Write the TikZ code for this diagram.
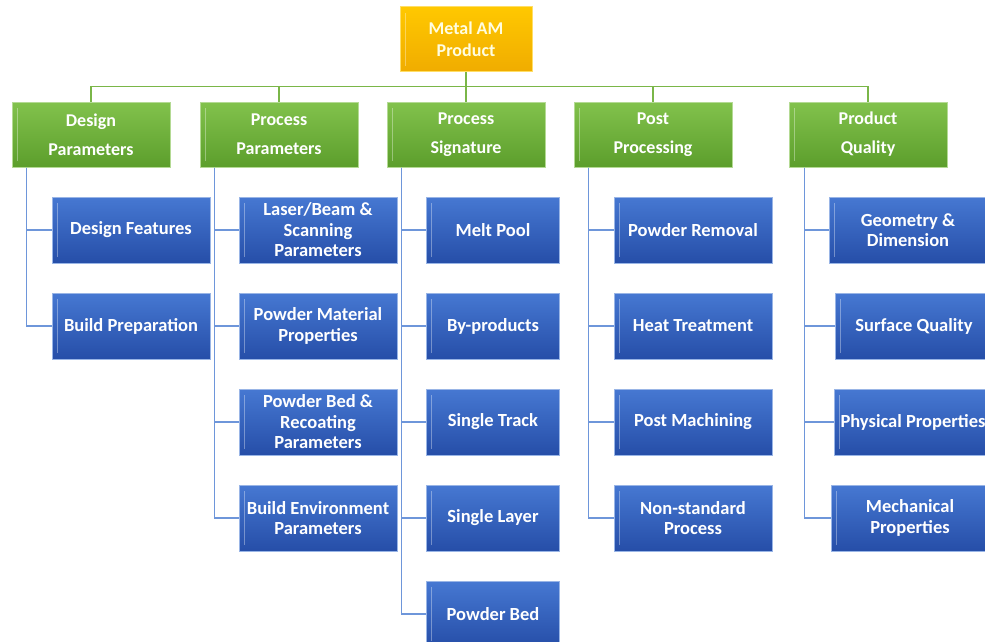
\documentclass[tikz,border=0pt]{standalone}
\usepackage{fontspec}
\setmainfont{Carlito}
\usetikzlibrary{positioning}
\definecolor{mgold}{RGB}{255,200,0}
\definecolor{mgoldd}{RGB}{240,172,0}
\definecolor{mgreen}{RGB}{130,194,76}
\definecolor{mgreend}{RGB}{92,158,44}
\definecolor{mblue}{RGB}{70,120,210}
\definecolor{mblued}{RGB}{38,78,168}
\definecolor{glink}{RGB}{122,182,72}
\definecolor{blink}{RGB}{110,150,218}

\begin{document}
\begin{tikzpicture}[x=1pt, y=1pt, node distance=29pt,
    box/.style={draw, line width=1pt, inner sep=0pt, align=center, text=white,
        path picture={\draw[white, opacity=.35, line width=1pt]
            ([xshift=5pt, yshift=-6pt]path picture bounding box.north west) --
            ([xshift=5pt, yshift=6pt]path picture bounding box.south west);}},
    root/.style={box, draw=mgold!60, top color=mgold, bottom color=mgoldd,
        minimum width=132pt, minimum height=65pt, text=yellow!12,
        font=\fontsize{18}{22}\selectfont\bfseries},
    group/.style={box, draw=mgreen!60, top color=mgreen, bottom color=mgreend,
        minimum width=158pt, minimum height=65pt,
        font=\fontsize{18}{29}\selectfont\bfseries},
    leaf/.style={box, draw=mblue!55, top color=mblue, bottom color=mblued,
        minimum width=158pt, minimum height=66pt,
        font=\fontsize{18.5}{20.5}\selectfont\bfseries},
    short_leaf/.style={leaf, minimum width=133pt},
    green_line/.style={glink, line width=1.2pt},
    blue_line/.style={blink, line width=1.4pt},
]
\clip (0,0) rectangle (985,-642);

\node[root] (metal) at (466,-39.5) {Metal AM\\Product};

% second level
\node[group] (design) at (91,-134.5) {Design\\Parameters};
\node[group] (process) at (279,-134.5) {Process\\Parameters};
\node[group] (signature) at (466,-134.5) {Process\\Signature};
\node[group] (post) at (653,-134.5) {Post\\Processing};
\node[group] (quality) at (868,-134.5) {Product\\Quality};

% design parameters
\node[leaf, below=29pt of design, xshift=40pt] (features) {Design Features};
\node[leaf, below=of features] (preparation) {Build Preparation};

% process parameters
\node[leaf, below=29pt of process, xshift=39pt] (laser) {Laser/Beam \&\\Scanning\\Parameters};
\node[leaf, below=of laser] (material) {Powder Material\\Properties};
\node[leaf, below=of material] (recoating) {Powder Bed \&\\Recoating\\Parameters};
\node[leaf, below=of recoating] (environment) {Build Environment\\Parameters};

% process signature
\node[short_leaf, below=29pt of signature, xshift=27pt] (meltpool) {Melt Pool};
\node[short_leaf, below=of meltpool] (byproducts) {By-products};
\node[short_leaf, below=of byproducts] (track) {Single Track};
\node[short_leaf, below=of track] (layer) {Single Layer};
\node[short_leaf, below=of layer] (bed) {Powder Bed};

% post processing
\node[leaf, below=29pt of post, xshift=40pt] (removal) {Powder Removal};
\node[leaf, below=of removal] (heat) {Heat Treatment};
\node[leaf, below=of heat] (machining) {Post Machining};
\node[leaf, below=of machining] (nonstandard) {Non-standard\\Process};

% product quality
\node[leaf, below=29pt of quality, xshift=40pt] (geometry) {Geometry \&\\Dimension};
\node[leaf, below=of geometry, xshift=6pt] (surface) {Surface Quality};
\node[leaf, below=of surface, xshift=-1pt] (physical) {Physical Properties};
\node[leaf, below=of physical, xshift=-3pt] (mechanical) {Mechanical\\Properties};

% green tree
\coordinate[below=14pt of metal] (bus);
\draw[green_line] (metal) -- (bus);
\foreach \g in {design,process,signature,post,quality}
    \draw[green_line] (bus) -| (\g);

% blue trunks
\coordinate[right=15pt of design.south west] (design_trunk);
\coordinate[right=15pt of process.south west] (process_trunk);
\coordinate[right=15pt of signature.south west] (signature_trunk);
\coordinate[right=15pt of post.south west] (post_trunk);
\coordinate[right=16pt of quality.south west] (quality_trunk);

\foreach \c in {features,preparation}
    \draw[blue_line] (design_trunk) |- (\c);
\foreach \c in {laser,material,recoating,environment}
    \draw[blue_line] (process_trunk) |- (\c);
\foreach \c in {meltpool,byproducts,track,layer,bed}
    \draw[blue_line] (signature_trunk) |- (\c);
\foreach \c in {removal,heat,machining,nonstandard}
    \draw[blue_line] (post_trunk) |- (\c);
\foreach \c in {geometry,surface,physical,mechanical}
    \draw[blue_line] (quality_trunk) |- (\c);

\end{tikzpicture}
\end{document}
